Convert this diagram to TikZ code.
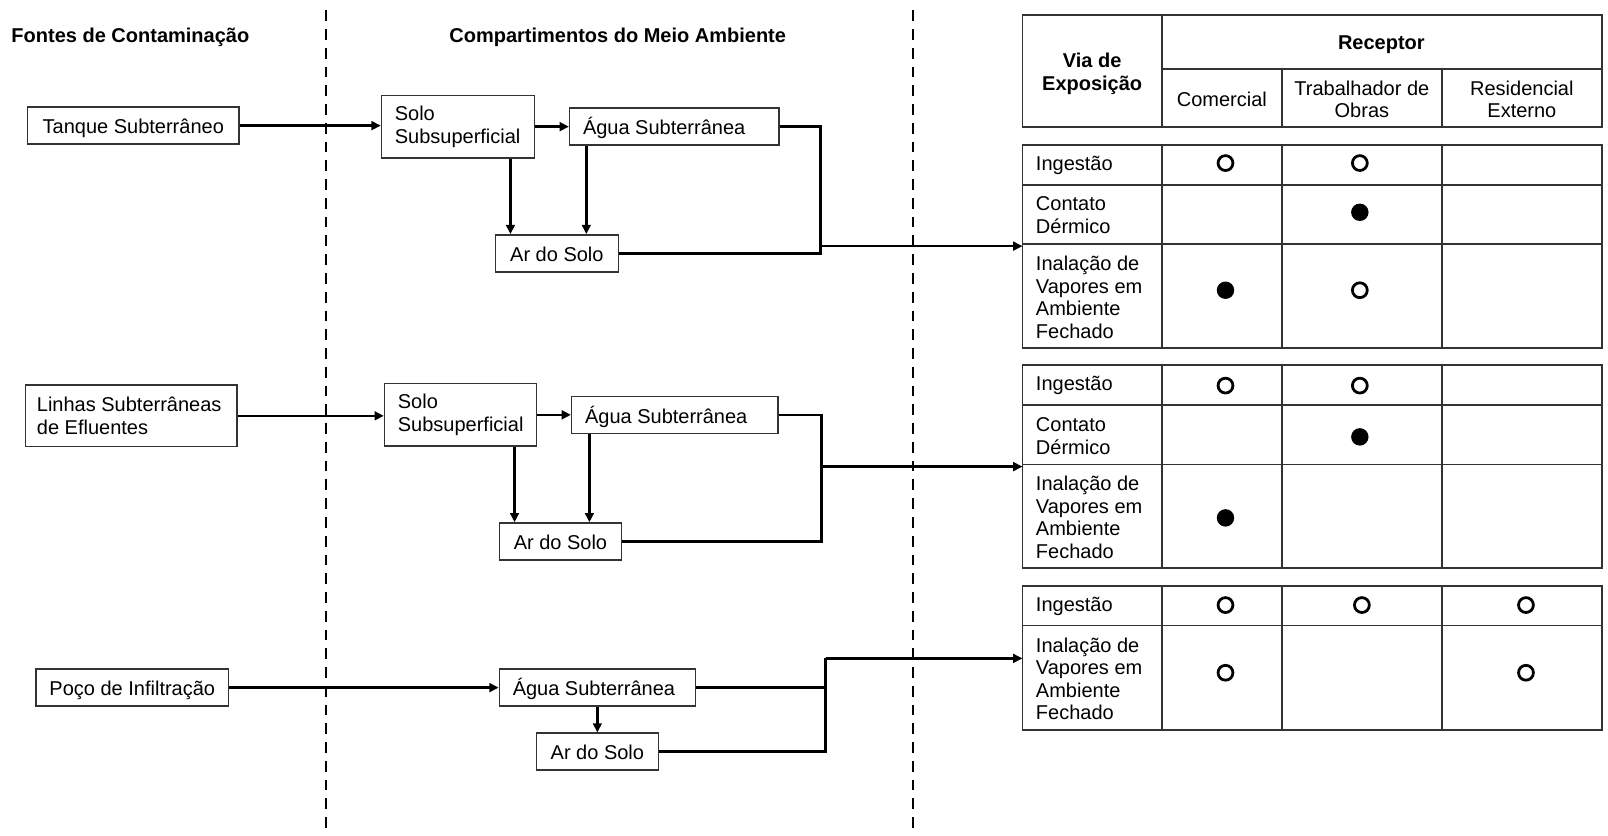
\documentclass[tikz,border=0pt]{standalone}
\usepackage{fontspec}
\setmainfont{Liberation Sans}
\setsansfont{Liberation Sans}
\usetikzlibrary{arrows.meta, positioning, calc}
\definecolor{boxline}{HTML}{333333}
\tikzset{
    >=Latex,
    csm_source/.style={
        rectangle,
        draw=boxline,
        fill=white,
        line width=1.5pt,
        inner xsep=12pt,
        inner ysep=0pt,
        text height=17pt,
        text depth=1pt,
        minimum height=36pt,
        align=center
    },
    csm_comp/.style={
        rectangle,
        draw=boxline,
        fill=white,
        line width=1.5pt,
        inner xsep=13pt,
        inner ysep=0pt,
        minimum height=36pt,
        align=flush left
    },
    csm_single/.style={
        text height=17pt,
        text depth=1pt
    },
    csm_table/.style={
        rectangle,
        draw=boxline,
        line width=1.8pt,
        outer sep=0pt,
        inner sep=0pt,
        anchor=north west
    },
    csm_grid/.style={
        draw=boxline,
        line width=1.8pt
    },
    csm_label/.style={
        anchor=west,
        align=left,
        inner sep=0pt
    },
    csm_head/.style={
        align=center,
        inner sep=0pt,
        font=\sffamily\bfseries\fontsize{19.5}{22}\selectfont
    },
    csm_open/.style={
        circle,
        draw=black,
        line width=2.7pt,
        minimum size=14.5pt,
        inner sep=0pt
    },
    csm_full/.style={
        circle,
        fill=black,
        minimum size=17pt,
        inner sep=0pt
    },
    csm_line/.style={
        line width=2.4pt
    },
    csm_arrow/.style={
        -{Triangle[length=9pt, width=8.5pt]},
        line width=2.4pt
    },
    csm_divisor/.style={
        line width=2.2pt,
        dash pattern=on 10.5pt off 7.8pt
    }
}

\begin{document}
\begin{tikzpicture}[x=1pt, y=-1pt, font=\sffamily\fontsize{19.5}{22}\selectfont]
\useasboundingbox (0,0) rectangle (1568,815);

% --- Divisores ---
\draw[csm_divisor] (318,10) -- (318,810);
\draw[csm_divisor] (890,10) -- (890,810);

% --- Titulos ---
\node[csm_head, anchor=west] (TitFontes) at (11,36) {Fontes de Contaminação};
\node[csm_head, anchor=west] (TitComp) at (438,36) {Compartimentos do Meio Ambiente};

% --- Grupo 1 (Tanque) ---
\node[csm_source, minimum width=206pt] (Tanque) at (130,122.5) {Tanque Subterrâneo};
\node[csm_comp, text width=123pt, minimum height=61pt] (Solo1) at (446.5,123.5) {Solo\\Subsuperficial};
\node[csm_comp, csm_single, text width=178pt, right=33pt of Solo1] (Agua1) {Água Subterrânea};
\node[csm_source, minimum width=120pt] (Ar1) at (543,247) {Ar do Solo};
\coordinate (J1) at (800,240);

% --- Grupo 2 (Linhas) ---
\node[csm_comp, inner xsep=11pt, text width=184pt, minimum height=60pt] (Linhas) at (128,405.5) {Linhas Subterrâneas\\de Efluentes};
\node[csm_comp, text width=122pt, minimum height=61pt] (Solo2) at (449,404.5) {Solo\\Subsuperficial};
\node[csm_comp, csm_single, text width=175pt, right=33pt of Solo2] (Agua2) {Água Subterrânea};
\node[csm_source, minimum width=119pt] (Ar2) at (546.5,528) {Ar do Solo};
\coordinate (J2) at (801,455);

% --- Grupo 3 (Poco) ---
\node[csm_source, minimum width=188pt] (Poco) at (129,670.5) {Poço de Infiltração};
\node[csm_comp, csm_single, text width=165pt] (Agua3) at (582.5,670.5) {Água Subterrânea};
\node[csm_source, minimum width=119pt, below=25pt of Agua3] (Ar3) {Ar do Solo};
\coordinate (J3) at (805,642);

% --- Tabela de cabecalho ---
\node[csm_table, minimum width=565pt, minimum height=109pt] (Cabecalho) at (997,15) {};
\draw[csm_grid] (1133,15) -- (1133,124);
\draw[csm_grid] (1133,67) -- (1562,67);
\draw[csm_grid] (1250,67) -- (1250,124);
\draw[csm_grid] (1406,67) -- (1406,124);
\node[csm_head] (Via) at (1065,72) {Via de\\Exposição};
\node[csm_head] (Receptor) at (1347,44) {Receptor};
\node[align=center, inner sep=0pt] (Comercial) at (1191.5,97) {Comercial};
\node[align=center, inner sep=0pt] (Trabalhador) at (1328,97) {Trabalhador de\\Obras};
\node[align=center, inner sep=0pt] (Residencial) at (1484,97) {Residencial\\Externo};

% --- Tabela 1 ---
\node[csm_table, minimum width=565pt, minimum height=198pt] (Tabela1) at (997,141) {};
\draw[csm_grid] (997,180) -- (1562,180);
\draw[csm_grid] (997,238) -- (1562,238);
\foreach \cx in {1133,1250,1406}
    \draw[csm_grid] (\cx,141) -- (\cx,339);
\node[csm_label] (T1Ing) at (1010,161) {Ingestão};
\node[csm_label] (T1Der) at (1010,210) {Contato\\Dérmico};
\node[csm_label] (T1Ina) at (1010,290) {Inalação de\\Vapores em\\Ambiente\\Fechado};
\node[csm_open] (T1a) at (1195,159) {};
\node[csm_open] (T1b) at (1326,159) {};
\node[csm_full] (T1c) at (1326,207) {};
\node[csm_full] (T1d) at (1195,283) {};
\node[csm_open] (T1e) at (1326,283) {};

% --- Tabela 2 ---
\node[csm_table, minimum width=565pt, minimum height=198pt] (Tabela2) at (997,356) {};
\draw[csm_grid] (997,395) -- (1562,395);
\draw[csm_grid] (997,453) -- (1562,453);
\foreach \cx in {1133,1250,1406}
    \draw[csm_grid] (\cx,356) -- (\cx,554);
\node[csm_label] (T2Ing) at (1010,376) {Ingestão};
\node[csm_label] (T2Der) at (1010,425) {Contato\\Dérmico};
\node[csm_label] (T2Ina) at (1010,504.5) {Inalação de\\Vapores em\\Ambiente\\Fechado};
\node[csm_open] (T2a) at (1195,376) {};
\node[csm_open] (T2b) at (1326,376) {};
\node[csm_full] (T2c) at (1326,426) {};
\node[csm_full] (T2d) at (1195,505) {};

% --- Tabela 3 ---
\node[csm_table, minimum width=565pt, minimum height=141pt] (Tabela3) at (997,571) {};
\draw[csm_grid] (997,610) -- (1562,610);
\foreach \cx in {1133,1250,1406}
    \draw[csm_grid] (\cx,571) -- (\cx,712);
\node[csm_label] (T3Ing) at (1010,591) {Ingestão};
\node[csm_label] (T3Ina) at (1010,662) {Inalação de\\Vapores em\\Ambiente\\Fechado};
\node[csm_open] (T3a) at (1195,590) {};
\node[csm_open] (T3b) at (1328,590) {};
\node[csm_open] (T3c) at (1488,590) {};
\node[csm_open] (T3d) at (1195,656) {};
\node[csm_open] (T3e) at (1488,656) {};

% --- Conexoes grupo 1 ---
\draw[csm_arrow] (Tanque.east) -- (Tanque.east -| Solo1.west);
\draw[csm_arrow] (Solo1.east) -- (Agua1.west);
\draw[csm_arrow] ([xshift=-24pt]Solo1.south east) -- ([xshift=-24pt]Solo1.south east |- Ar1.north);
\draw[csm_arrow] ([xshift=17pt]Agua1.south west) -- ([xshift=17pt]Agua1.south west |- Ar1.north);
\draw[csm_line] (Agua1.east) -- (Agua1.east -| J1) -- (Ar1.east -| J1) -- (Ar1.east);
\draw[csm_arrow] (J1) -- (J1 -| Tabela1.west);

% --- Conexoes grupo 2 ---
\draw[csm_arrow] (Linhas.east) -- (Linhas.east -| Solo2.west);
\draw[csm_arrow] (Solo2.east) -- (Agua2.west);
\draw[csm_arrow] ([xshift=-22pt]Solo2.south east) -- ([xshift=-22pt]Solo2.south east |- Ar2.north);
\draw[csm_arrow] ([xshift=18pt]Agua2.south west) -- ([xshift=18pt]Agua2.south west |- Ar2.north);
\draw[csm_line] (Agua2.east) -- (Agua2.east -| J2) -- (Ar2.east -| J2) -- (Ar2.east);
\draw[csm_arrow] (J2) -- (J2 -| Tabela2.west);

% --- Conexoes grupo 3 ---
\draw[csm_arrow] (Poco.east) -- (Agua3.west);
\draw[csm_arrow] (Agua3.south) -- (Ar3.north);
\draw[csm_line] (Agua3.east) -- (Agua3.east -| J3);
\draw[csm_line] (Ar3.east) -- (Ar3.east -| J3) -- (J3);
\draw[csm_arrow] (J3) -- (J3 -| Tabela3.west);

\end{tikzpicture}
\end{document}
